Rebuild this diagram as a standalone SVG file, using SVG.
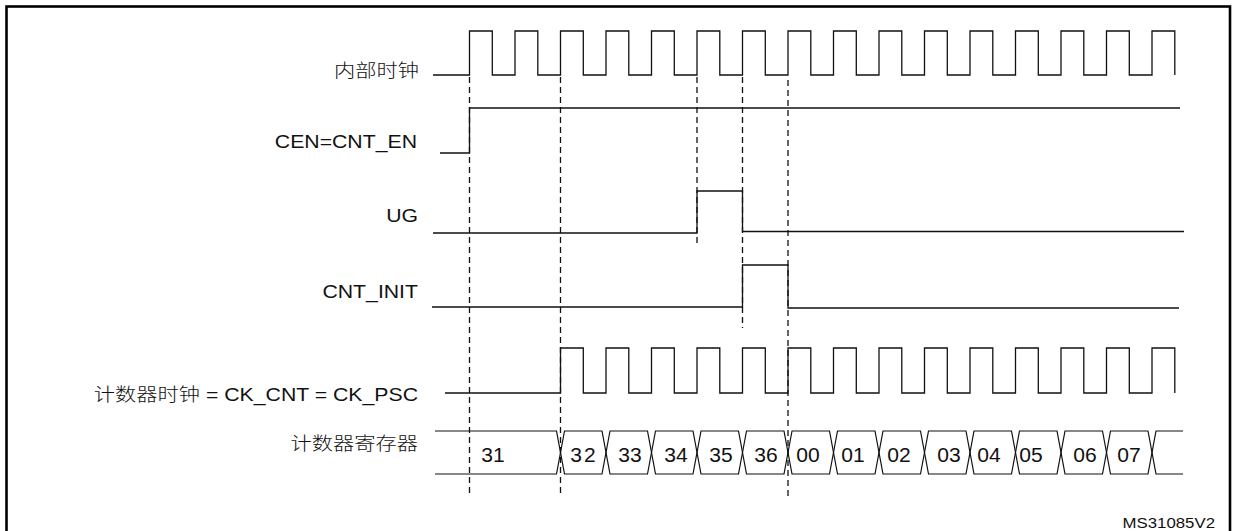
<svg xmlns="http://www.w3.org/2000/svg" width="1236" height="531" viewBox="0 0 1236 531">
<style>
.frame{fill:none;stroke:#000;stroke-width:2.6}
.sig{fill:none;stroke:#111;stroke-width:1.3;stroke-linejoin:miter}
.bus{fill:none;stroke:#111;stroke-width:1.2}
.guide{fill:none;stroke:#111;stroke-width:1.3;stroke-dasharray:6,4}
.lbl{font-family:"Liberation Sans","Noto Sans CJK SC",sans-serif;font-size:17.7px;font-weight:300;fill:#111;text-anchor:end}
.val{font-family:"Liberation Sans",sans-serif;font-size:19.5px;fill:#111;text-anchor:middle}
.ref{font-family:"Liberation Sans",sans-serif;font-size:14px;fill:#111;text-anchor:end}
</style>
<rect class="frame" x="6.5" y="6.5" width="1223.5" height="540" fill="#fff"/>

<g id="internal-clock">
<text class="lbl" transform="translate(419,76.5) scale(1.2,1)">内部时钟</text>
<path class="sig" d="M433,75 H469.5 V31 H492.3 V75 H515 V31 H537.8 V75 H560.5 V31 H583.3 V75 H606 V31 H628.8 V75 H651.5 V31 H674.3 V75 H697 V31 H719.8 V75 H742.5 V31 H765.3 V75 H788 V31 H810.8 V75 H833.5 V31 H856.3 V75 H879 V31 H901.8 V75 H924.5 V31 H947.3 V75 H970 V31 H992.8 V75 H1015.5 V31 H1038.3 V75 H1061 V31 H1083.8 V75 H1106.5 V31 H1129.3 V75 H1152 V31 H1174.8 V75"/>
</g>

<g id="cen">
<text class="lbl" transform="translate(417,148) scale(1.2,1)">CEN=CNT_EN</text>
<path class="sig" d="M440,153 H469.5 V108 H1180"/>
</g>

<g id="ug">
<text class="lbl" transform="translate(418,222) scale(1.2,1)">UG</text>
<path class="sig" d="M433,233 H697 V191 H742.5 V231.5 H1184"/>
</g>

<g id="cnt-init">
<text class="lbl" transform="translate(418,298) scale(1.2,1)">CNT_INIT</text>
<path class="sig" d="M432,307 H742.5 V265 H788 V308 H1179"/>
</g>

<g id="ck-cnt">
<text class="lbl" transform="translate(418,401) scale(1.2,1)">计数器时钟 = CK_CNT = CK_PSC</text>
<path class="sig" d="M445,393 H560.5 V348 H583.3 V393 H606 V348 H628.8 V393 H651.5 V348 H674.3 V393 H697 V348 H719.8 V393 H742.5 V348 H765.3 V393 H788 V348 H810.8 V393 H833.5 V348 H856.3 V393 H879 V348 H901.8 V393 H924.5 V348 H947.3 V393 H970 V348 H992.8 V393 H1015.5 V348 H1038.3 V393 H1061 V348 H1083.8 V393 H1106.5 V348 H1129.3 V393 H1152 V348 H1174.8 V393"/>
</g>

<g id="counter-register">
<text class="lbl" transform="translate(418,450) scale(1.2,1)">计数器寄存器</text>
<path class="bus" d="M435,431 H556.5 L560.5,452.5 L556.5,474 H435"/>
<polygon class="bus" points="560.5,452.5 564.5,431 602,431 606,452.5 602,474 564.5,474"/>
<polygon class="bus" points="606,452.5 610,431 647.5,431 651.5,452.5 647.5,474 610,474"/>
<polygon class="bus" points="651.5,452.5 655.5,431 693,431 697,452.5 693,474 655.5,474"/>
<polygon class="bus" points="697,452.5 701,431 738.5,431 742.5,452.5 738.5,474 701,474"/>
<polygon class="bus" points="742.5,452.5 746.5,431 784,431 788,452.5 784,474 746.5,474"/>
<polygon class="bus" points="788,452.5 792,431 829.5,431 833.5,452.5 829.5,474 792,474"/>
<polygon class="bus" points="833.5,452.5 837.5,431 875,431 879,452.5 875,474 837.5,474"/>
<polygon class="bus" points="879,452.5 883,431 920.5,431 924.5,452.5 920.5,474 883,474"/>
<polygon class="bus" points="924.5,452.5 928.5,431 966,431 970,452.5 966,474 928.5,474"/>
<polygon class="bus" points="970,452.5 974,431 1011.5,431 1015.5,452.5 1011.5,474 974,474"/>
<polygon class="bus" points="1015.5,452.5 1019.5,431 1057,431 1061,452.5 1057,474 1019.5,474"/>
<polygon class="bus" points="1061,452.5 1065,431 1102.5,431 1106.5,452.5 1102.5,474 1065,474"/>
<polygon class="bus" points="1106.5,452.5 1110.5,431 1148,431 1152,452.5 1148,474 1110.5,474"/>
<path class="bus" d="M1183,431 H1156 L1152,452.5 L1156,474 H1183"/>
<g transform="translate(0,462)">
<text class="val" transform="translate(493,0) scale(1.08,1)">31</text>
<text class="val" letter-spacing="2" transform="translate(584,0) scale(1.08,1)">32</text>
<text class="val" transform="translate(630,0) scale(1.08,1)">33</text>
<text class="val" transform="translate(676,0) scale(1.08,1)">34</text>
<text class="val" transform="translate(721,0) scale(1.08,1)">35</text>
<text class="val" transform="translate(766,0) scale(1.08,1)">36</text>
<text class="val" transform="translate(808,0) scale(1.08,1)">00</text>
<text class="val" transform="translate(853,0) scale(1.08,1)">01</text>
<text class="val" transform="translate(899,0) scale(1.08,1)">02</text>
<text class="val" transform="translate(949,0) scale(1.08,1)">03</text>
<text class="val" transform="translate(989,0) scale(1.08,1)">04</text>
<text class="val" transform="translate(1031,0) scale(1.08,1)">05</text>
<text class="val" transform="translate(1085,0) scale(1.08,1)">06</text>
<text class="val" transform="translate(1129,0) scale(1.08,1)">07</text>
</g>
</g>

<g id="connectors">
<line class="guide" x1="469.5" y1="77" x2="469.5" y2="494"/>
<line class="guide" x1="560.5" y1="77" x2="560.5" y2="494"/>
<line class="guide" x1="697" y1="77" x2="697" y2="247"/>
<line class="guide" x1="742.5" y1="77" x2="742.5" y2="328"/>
<line class="guide" x1="788" y1="80" x2="788" y2="497"/>
</g>

<text class="ref" transform="translate(1215,528) scale(1.2,1)">MS31085V2</text>
</svg>
